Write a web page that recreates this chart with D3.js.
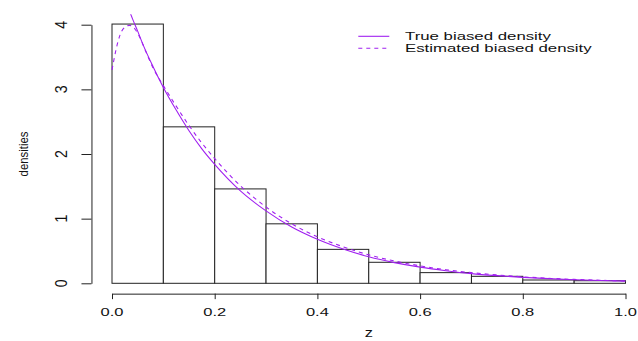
<!DOCTYPE html>
<html>
<head>
<meta charset="utf-8">
<script src="https://cdn.jsdelivr.net/npm/d3@7"></script>
<style>
  html, body { margin: 0; padding: 0; background: #fff; }
  svg { display: block; font-family: "Liberation Sans", Arial, Helvetica, sans-serif; }
</style>
</head>
<body>
<svg id="chart" width="638" height="341"></svg>
<script>
// Histogram of z (density scale), breaks every 0.1
const binEdges = [0, 0.1, 0.2, 0.3, 0.4, 0.5, 0.6, 0.7, 0.8, 0.9, 1.0];
const binDensities = [4.01, 2.42, 1.46, 0.92, 0.525, 0.325, 0.165, 0.108, 0.051, 0.04];

// True biased density
const trueZ = [0.03, 0.04, 0.05, 0.06, 0.08, 0.1, 0.125, 0.15, 0.175, 0.2, 0.25, 0.3, 0.35, 0.4, 0.45, 0.5, 0.55, 0.6, 0.65, 0.7, 0.75, 0.8, 0.85, 0.9, 0.95, 1.0];
const trueDensity = [4.30, 4.09, 3.90, 3.70, 3.35, 3.03, 2.68, 2.36, 2.08, 1.84, 1.43, 1.12, 0.87, 0.68, 0.53, 0.41, 0.32, 0.25, 0.195, 0.15, 0.118, 0.092, 0.072, 0.056, 0.043, 0.034];

// Estimated biased density
const estZ = [0, 0.008, 0.016, 0.025, 0.034, 0.045, 0.055, 0.065, 0.08, 0.1, 0.125, 0.15, 0.175, 0.2, 0.25, 0.3, 0.35, 0.4, 0.45, 0.5, 0.55, 0.6, 0.65, 0.7, 0.75, 0.8, 0.85, 0.9, 0.95, 1.0];
const estDensity = [3.30, 3.62, 3.85, 3.96, 3.99, 3.93, 3.79, 3.60, 3.33, 3.06, 2.74, 2.44, 2.17, 1.93, 1.51, 1.18, 0.92, 0.72, 0.565, 0.44, 0.345, 0.27, 0.21, 0.165, 0.13, 0.10, 0.078, 0.06, 0.047, 0.037];

const xTicks = [0, 0.2, 0.4, 0.6, 0.8, 1.0];
const yTicks = [0, 1, 2, 3, 4];
const legendLabels = ["True biased density", "Estimated biased density"];
const xLabel = "z";
const yLabel = "densities";

const curveColor = "#a020f0";
const svg = d3.select("#chart");

// Scales (user range padded 4% as in base graphics)
const x = d3.scaleLinear().domain([0, 1]).range([112, 625.5]);
const y = d3.scaleLinear().domain([0, 4]).range([283.3, 24.7]);
const usrX = [-0.04, 1.04];
const usrY = [-0.16, 4.16];

// Clip to the plotting region
svg.append("defs").append("clipPath").attr("id", "plotClip")
  .append("rect")
  .attr("x", x(usrX[0])).attr("y", y(usrY[1]))
  .attr("width", x(usrX[1]) - x(usrX[0]))
  .attr("height", y(usrY[0]) - y(usrY[1]));

// Histogram bars
const bins = binDensities.map((d, i) => ({ x0: binEdges[i], x1: binEdges[i + 1], d }));
svg.append("g").selectAll("rect").data(bins).join("rect")
  .attr("x", b => x(b.x0))
  .attr("y", b => y(b.d))
  .attr("width", b => x(b.x1) - x(b.x0))
  .attr("height", b => y(0) - y(b.d))
  .attr("fill", "#fff")
  .attr("stroke", "#222")
  .attr("stroke-width", 1);

// Density curves
const line = d3.line().curve(d3.curveMonotoneX).x(d => x(d[0])).y(d => y(d[1]));
const curves = svg.append("g").attr("clip-path", "url(#plotClip)");
curves.append("path")
  .attr("d", line(trueZ.map((z, i) => [z, trueDensity[i]])))
  .attr("fill", "none").attr("stroke", curveColor).attr("stroke-width", 1.1);
curves.append("path")
  .attr("d", line(estZ.map((z, i) => [z, estDensity[i]])))
  .attr("fill", "none").attr("stroke", curveColor).attr("stroke-width", 1.1)
  .attr("stroke-dasharray", "4,4");

// X axis
const xAxisY = y(usrY[0]);
const xAxis = svg.append("g").attr("transform", `translate(0,${xAxisY})`)
  .call(d3.axisBottom(x).tickValues(xTicks).tickSize(5.5).tickSizeOuter(0).tickFormat(() => ""));
xAxis.select(".domain").attr("stroke", "#222");
xAxis.selectAll(".tick line").attr("stroke", "#222");
xAxis.selectAll(".tick text").remove();
svg.append("g").selectAll("text").data(xTicks).join("text")
  .attr("transform", d => `translate(${x(d)},316.4) scale(1,0.66)`)
  .attr("text-anchor", "middle")
  .attr("font-size", 16.5)
  .attr("fill", "#111")
  .text(d => d3.format(".1f")(d));

// Y axis
const yAxisX = x(usrX[0]);
const yAxis = svg.append("g").attr("transform", `translate(${yAxisX},0)`)
  .call(d3.axisLeft(y).tickValues(yTicks).tickSize(10).tickSizeOuter(0).tickFormat(() => ""));
yAxis.select(".domain").attr("stroke", "#222");
yAxis.selectAll(".tick line").attr("stroke", "#222");
yAxis.selectAll(".tick text").remove();
svg.append("g").selectAll("text").data(yTicks).join("text")
  .attr("transform", d => `translate(67,${y(d)}) rotate(-90) scale(0.86,1)`)
  .attr("text-anchor", "middle")
  .attr("font-size", 16.5)
  .attr("fill", "#111")
  .text(d => d);

// Axis titles
svg.append("text")
  .attr("transform", `translate(${x(0.5)},337.3) scale(1,0.75)`)
  .attr("text-anchor", "middle")
  .attr("font-size", 16.5)
  .attr("fill", "#111")
  .text(xLabel);
svg.append("text")
  .attr("transform", `translate(28,${(y(0) + y(4)) / 2}) rotate(-90) scale(0.83,1)`)
  .attr("text-anchor", "middle")
  .attr("font-size", 13.7)
  .attr("fill", "#111")
  .text(yLabel);

// Legend
const legendRows = [
  { label: legendLabels[0], dash: null, ly: 36.3, base: 40.2 },
  { label: legendLabels[1], dash: "4,4", ly: 48.3, base: 51.8 }
];
const legend = svg.append("g");
legendRows.forEach(r => {
  legend.append("line")
    .attr("x1", 358.3).attr("x2", 389.3).attr("y1", r.ly).attr("y2", r.ly)
    .attr("stroke", curveColor).attr("stroke-width", 1.1)
    .attr("stroke-dasharray", r.dash);
  legend.append("text")
    .attr("transform", `translate(405,${r.base}) scale(1,0.62)`)
    .attr("font-size", 16.8)
    .attr("fill", "#111")
    .text(r.label);
});
</script>
</body>
</html>
